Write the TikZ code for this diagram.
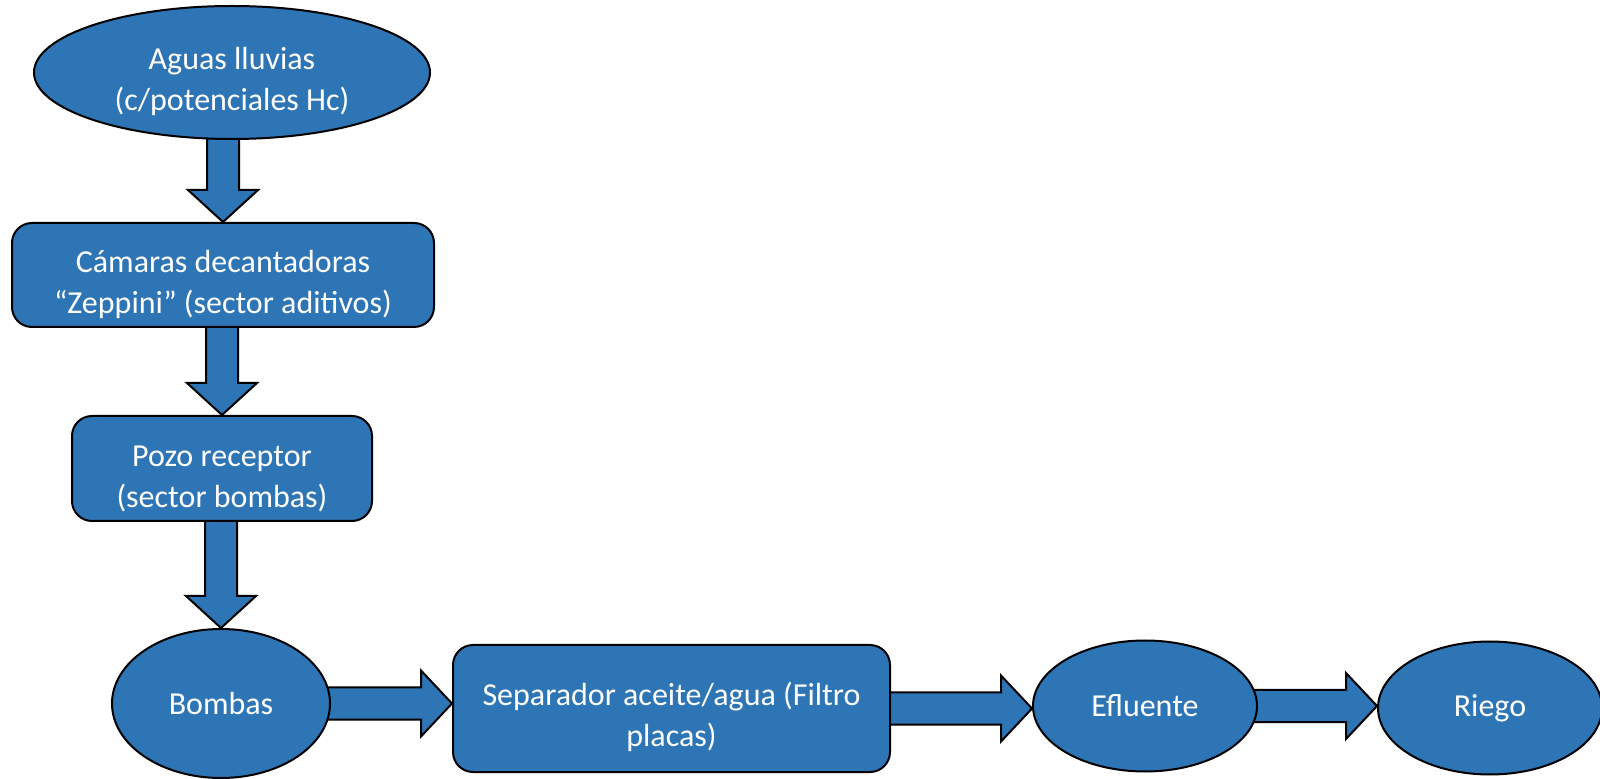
\documentclass[tikz,border=0pt]{standalone}
\usepackage{fontspec}
\setmainfont{Carlito}
\usetikzlibrary{shapes.geometric, calc, backgrounds}

% strut to push two-line texts down a bit
\newcommand{\alto}{\rule{0pt}{20.5pt}}

\begin{document}
\begin{tikzpicture}[x=0.5pt,y=0.5pt]

% Colors
\definecolor{cajaazul}{RGB}{46,117,182}

% Styles
\tikzset{
    base/.style={draw=black, line width=1pt, fill=cajaazul, text=white, font=\fontsize{16}{20.5}\selectfont, align=center, inner sep=0pt},
    elipse/.style={base, ellipse},
    caja/.style={base, rectangle, rounded corners=10pt},
    flecha/.style={draw=black, line width=1pt, fill=cajaazul, line join=miter}
}

\useasboundingbox (0,0) rectangle (1600,-779);

% Vertical chain
\node[elipse, minimum width=198pt, minimum height=66.5pt] (lluvias) at (232,-72.5) {\alto Aguas lluvias\\(c/potenciales Hc)};
\node[caja, minimum width=211pt, minimum height=52pt] (camaras) at (223,-275) {\alto Cámaras decantadoras\\“Zeppini” (sector aditivos)};
\node[caja, minimum width=150pt, minimum height=52.5pt] (pozo) at (222,-468.5) {\alto Pozo receptor\\(sector bombas)};
\node[elipse, minimum width=109pt, minimum height=74.5pt] (bombas) at (221,-703.5) {Bombas};

% Horizontal chain
\node[caja, minimum width=218.5pt, minimum height=63.5pt] (separador) at (671.5,-708.5) {\alto Separador aceite/agua (Filtro\\placas)};
\node[elipse, minimum width=112pt, minimum height=65.5pt] (efluente) at (1145,-706) {Efluente};
\node[elipse, minimum width=112pt, minimum height=66.5pt] (riego) at (1490,-708) {Riego};

% Block arrows
\begin{scope}[on background layer]
\foreach \a/\b in {lluvias/camaras,camaras/pozo,pozo/bombas} {
    \draw[flecha] ($(\a.south -| \b.north)+(-16,6)$) -- ($(\b.north)+(-16,32)$) -- ($(\b.north)+(-35,32)$) -- (\b.north)
        -- ($(\b.north)+(35,32)$) -- ($(\b.north)+(16,32)$) -- ($(\a.south -| \b.north)+(16,6)$) -- cycle;
}
\foreach \a/\b in {bombas/separador,separador/efluente,efluente/riego} {
    \draw[flecha] ($(\a.east)+(-6,16)$) -- ($(\b.west |- \a.east)+(-31,16)$) -- ($(\b.west |- \a.east)+(-31,33)$) -- (\b.west |- \a.east)
        -- ($(\b.west |- \a.east)+(-31,-33)$) -- ($(\b.west |- \a.east)+(-31,-16)$) -- ($(\a.east)+(-6,-16)$) -- cycle;
}
\end{scope}

\end{tikzpicture}
\end{document}
